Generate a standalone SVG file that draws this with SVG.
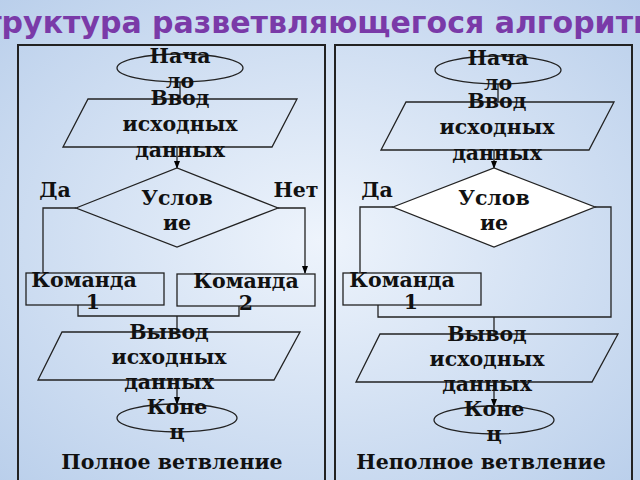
<svg xmlns="http://www.w3.org/2000/svg" width="640" height="480" viewBox="0 0 640 480">
<defs>
<radialGradient id="bg" cx="0.5" cy="0.5" r="0.75">
<stop offset="0" stop-color="#eef4fc"/><stop offset="1" stop-color="#b7cdea"/>
</radialGradient>
<marker id="ar" markerWidth="8" markerHeight="8" refX="7" refY="4" orient="auto" markerUnits="userSpaceOnUse"><path d="M0,1 L8,4 L0,7 z" fill="#000"/></marker>
<style>
.n{fill:none;stroke:#222;stroke-width:1.3}
.w{fill:#fff;stroke:#222;stroke-width:1.3}
.c{stroke:#222;stroke-width:1.3;fill:none}
.t{font-family:"DejaVu Serif","Liberation Serif",serif;font-weight:bold;font-size:20.5px;fill:#111;text-anchor:middle}
.panel{fill:none;stroke:#222;stroke-width:2}
</style>
</defs>
<rect width="640" height="480" fill="url(#bg)"/>
<text x="320" y="33" style="font-family:'DejaVu Sans','Liberation Sans',sans-serif;font-weight:bold;font-size:30px;fill:#7a3aa8;text-anchor:middle">Структура разветвляющегося алгоритма</text>
<rect class="panel" x="18" y="45" width="307" height="440"/>
<rect class="panel" x="335" y="45" width="297" height="440"/>

<g id="connectors">
<path class="c" d="M180,82 V99"/>
<path class="c" d="M177,147 V168" marker-end="url(#ar)"/>
<path class="c" d="M76,208 H43 V273"/>
<path class="c" d="M278,208 H305 V273" marker-end="url(#ar)"/>
<path class="c" d="M78,305 V316 H239 V306"/>
<path class="c" d="M177,316 V332"/>
<path class="c" d="M177,380 V404" marker-end="url(#ar)"/>
<path class="c" d="M498,84 V102"/>
<path class="c" d="M494,150 V168" marker-end="url(#ar)"/>
<path class="c" d="M393,207 H360 V273"/>
<path class="c" d="M595,207 H611 V317 H378 V305"/>
<path class="c" d="M494,317 V334"/>
<path class="c" d="M494,382 V406" marker-end="url(#ar)"/>
</g>

<g id="start1"><ellipse class="n" cx="180" cy="68" rx="63" ry="14"/><text class="t" x="180" y="63">Нача</text><text class="t" x="180" y="88">ло</text></g>
<g id="input1"><polygon class="n" points="88,99 297,99 272,147 63,147"/><text class="t" x="180" y="105">Ввод</text><text class="t" x="180" y="131">исходных</text><text class="t" x="180" y="157">данных</text></g>
<g id="cond1"><polygon class="n" points="76,208 177,168 278,208 177,247"/><text class="t" x="177" y="205">Услов</text><text class="t" x="177" y="230">ие</text>
<text class="t" x="55" y="197">Да</text><text class="t" x="296" y="197">Нет</text></g>
<g id="cmd1"><rect class="n" x="26" y="273" width="138" height="32"/><text class="t" x="84" y="287">Команда</text><text class="t" x="93" y="309">1</text></g>
<g id="cmd2"><rect class="n" x="177" y="274" width="138" height="32"/><text class="t" x="246" y="288">Команда</text><text class="t" x="246" y="310">2</text></g>
<g id="output1"><polygon class="n" points="62,332 300,332 274,380 38,380"/><text class="t" x="169" y="339">Вывод</text><text class="t" x="169" y="364">исходных</text><text class="t" x="169" y="389">данных</text></g>
<g id="end1"><ellipse class="n" cx="177" cy="418" rx="60" ry="14"/><text class="t" x="177" y="414">Коне</text><text class="t" x="177" y="439">ц</text></g>
<text class="t" x="172" y="469">Полное ветвление</text>

<g id="start2"><ellipse class="n" cx="498" cy="70" rx="63" ry="14"/><text class="t" x="498" y="65">Нача</text><text class="t" x="498" y="90">ло</text></g>
<g id="input2"><polygon class="n" points="406,102 614,102 589,150 381,150"/><text class="t" x="497" y="108">Ввод</text><text class="t" x="497" y="134">исходных</text><text class="t" x="497" y="160">данных</text></g>
<g id="cond2"><polygon class="w" points="393,207 494,168 595,207 494,247"/><text class="t" x="494" y="205">Услов</text><text class="t" x="494" y="230">ие</text>
<text class="t" x="377" y="197">Да</text></g>
<g id="cmd3"><rect class="n" x="343" y="273" width="138" height="32"/><text class="t" x="402" y="287">Команда</text><text class="t" x="411" y="309">1</text></g>
<g id="output2"><polygon class="n" points="380,334 618,334 592,382 356,382"/><text class="t" x="487" y="341">Вывод</text><text class="t" x="487" y="366">исходных</text><text class="t" x="487" y="391">данных</text></g>
<g id="end2"><ellipse class="n" cx="494" cy="420" rx="60" ry="14"/><text class="t" x="494" y="416">Коне</text><text class="t" x="494" y="441">ц</text></g>
<text class="t" x="481" y="469">Неполное ветвление</text>
</svg>
